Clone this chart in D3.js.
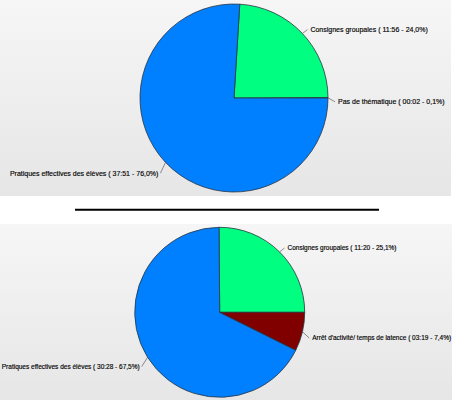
<!DOCTYPE html>
<html><head><meta charset="utf-8">
<script src="https://cdn.jsdelivr.net/npm/d3@7/dist/d3.min.js"></script>
<style>html,body{margin:0;padding:0;background:#fff;}svg{display:block;}</style>
</head><body>
<script>
// Chart 1 (top)
const topCategories = ["Pas de thématique", "Consignes groupales", "Pratiques effectives des élèves"];
const topTimes = ["00:02", "11:56", "37:51"];
const topPercents = ["0,1%", "24,0%", "76,0%"];
const topColors = ["#800000", "#00ff80", "#0080ff"];
// Chart 2 (bottom)
const bottomCategories = ["Consignes groupales", "Pratiques effectives des élèves", "Arrêt d'activité/ temps de latence"];
const bottomTimes = ["11:20", "30:28", "03:19"];
const bottomPercents = ["25,1%", "67,5%", "7,4%"];
const bottomColors = ["#00ff80", "#0080ff", "#800000"];

const W = 453, H = 400;
const svg = d3.select("body").append("svg").attr("width", W).attr("height", H);
const defs = svg.append("defs");
const grad = defs.append("linearGradient").attr("id", "bg").attr("x1", 0).attr("y1", 0).attr("x2", 0).attr("y2", 1);
grad.append("stop").attr("offset", "0%").attr("stop-color", "#f6f6f6");
grad.append("stop").attr("offset", "100%").attr("stop-color", "#e6e6e6");

function toSec(t) { const [m, s] = t.split(":").map(Number); return m * 60 + s; }

function drawPie(panel, cats, times, pcts, colors) {
  const g = svg.append("g");
  g.append("rect").attr("x", panel.x).attr("y", panel.y).attr("width", panel.w).attr("height", panel.h)
    .attr("fill", "url(#bg)");
  const data = cats.map((c, i) => ({ c, t: times[i], p: pcts[i], v: toSec(times[i]), col: colors[i] }));
  const pie = d3.pie().sort(null).value(d => d.v).startAngle(Math.PI / 2).endAngle(Math.PI / 2 - 2 * Math.PI);
  const arcs = pie(data);
  const arc = d3.arc().innerRadius(0).outerRadius(panel.r);
  const pg = g.append("g").attr("transform", `translate(${panel.cx},${panel.cy})`);
  pg.selectAll("path").data(arcs).join("path").attr("d", arc)
    .attr("fill", d => d.data.col).attr("stroke", "#2a3440").attr("stroke-width", 0.8).attr("stroke-linejoin", "round");
  arcs.forEach(a => {
    const m = (a.startAngle + a.endAngle) / 2;
    const dx = Math.sin(m), dy = -Math.cos(m);
    const p0 = [dx * panel.r, dy * panel.r];
    const right = dx >= 0;
    const p1 = [dx * (panel.r + 7), dy * (panel.r + 7) + (dy < -0.2 ? 1 : 4 + 3 * dy)];
    pg.append("line").attr("x1", p0[0]).attr("y1", p0[1]).attr("x2", p1[0]).attr("y2", p1[1])
      .attr("stroke", "#444").attr("stroke-width", 0.6);
    pg.append("text").attr("x", p1[0] + (right ? 3 : -2)).attr("y", p1[1])
      .attr("dy", "0.35em").attr("text-anchor", right ? "start" : "end")
      .attr("font-family", "'Liberation Sans',Arial,sans-serif")
      .attr("font-size", panel.fs + "px").attr("fill", "#000")
      .attr("stroke", "#000").attr("stroke-width", 0.15)
      .text(`${a.data.c} ( ${a.data.t} - ${a.data.p})`);
  });
}

drawPie({ x: 0, y: 0, w: 451, h: 196, cx: 234, cy: 98, r: 94, fs: 7 }, topCategories, topTimes, topPercents, topColors);
drawPie({ x: 0, y: 224, w: 452, h: 176, cx: 219.7, cy: 312.3, r: 85, fs: 6.5 }, bottomCategories, bottomTimes, bottomPercents, bottomColors);

svg.append("line").attr("x1", 75).attr("x2", 379).attr("y1", 209.7).attr("y2", 209.7)
  .attr("stroke", "#000").attr("stroke-width", 2);
</script>
</body></html>
